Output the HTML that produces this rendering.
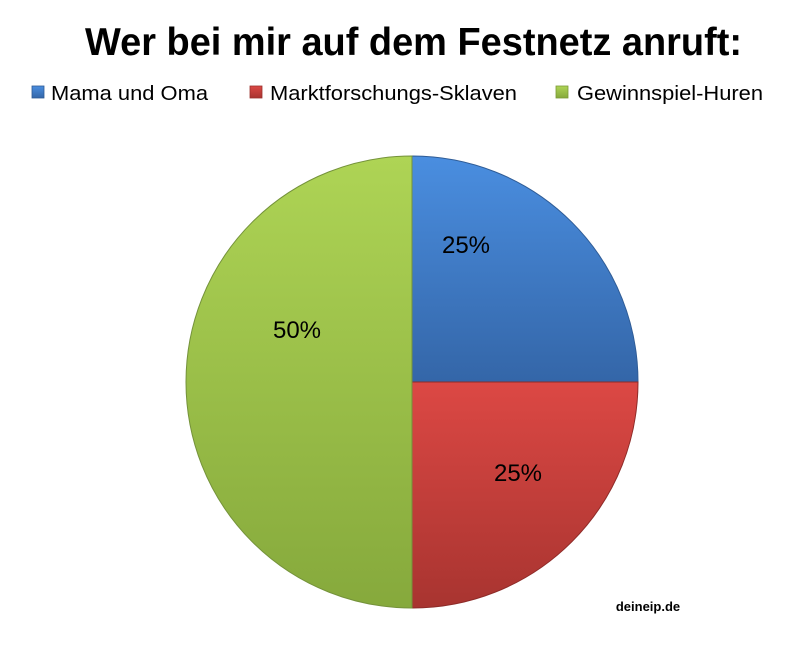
<!DOCTYPE html>
<html><head><meta charset="utf-8"><style>
body{margin:0;background:#fff;width:785px;height:651px;overflow:hidden;font-family:"Liberation Sans",sans-serif}
</style></head><body>
<svg width="785" height="651" xmlns="http://www.w3.org/2000/svg">
<defs>
<linearGradient id="b" x1="0" y1="0" x2="0" y2="1"><stop offset="0" stop-color="#4a8ee0"/><stop offset="1" stop-color="#3466a8"/></linearGradient>
<linearGradient id="r" x1="0" y1="0" x2="0" y2="1"><stop offset="0" stop-color="#dc4844"/><stop offset="1" stop-color="#a83430"/></linearGradient>
<linearGradient id="g" x1="0" y1="0" x2="0" y2="1"><stop offset="0" stop-color="#aed455"/><stop offset="1" stop-color="#86a93c"/></linearGradient>
</defs>
<text x="85" y="55" font-size="39" font-weight="bold" fill="#000" textLength="657" lengthAdjust="spacingAndGlyphs">Wer bei mir auf dem Festnetz anruft:</text>
<rect x="32" y="86" width="12" height="12" fill="url(#b)" stroke="#2d5a94" stroke-width="0.8"/>
<text x="51" y="100" font-size="20" fill="#000" textLength="157" lengthAdjust="spacingAndGlyphs">Mama und Oma</text>
<rect x="250" y="86" width="12" height="12" fill="url(#r)" stroke="#9a302c" stroke-width="0.8"/>
<text x="270" y="100" font-size="20" fill="#000" textLength="247" lengthAdjust="spacingAndGlyphs">Marktforschungs-Sklaven</text>
<rect x="556" y="86" width="12" height="12" fill="url(#g)" stroke="#7a9a36" stroke-width="0.8"/>
<text x="577" y="100" font-size="20" fill="#000" textLength="186" lengthAdjust="spacingAndGlyphs">Gewinnspiel-Huren</text>
<path d="M412,382 L412,156 A226,226 0 0 1 638,382 Z" fill="url(#b)" stroke="#2f5c96" stroke-width="1"/>
<path d="M412,382 L638,382 A226,226 0 0 1 412,608 Z" fill="url(#r)" stroke="#8e2b28" stroke-width="1"/>
<path d="M412,382 L412,608 A226,226 0 0 1 412,156 Z" fill="url(#g)" stroke="#74923a" stroke-width="1"/>
<text x="466" y="253" text-anchor="middle" font-size="24" fill="#000">25%</text>
<text x="518" y="481" text-anchor="middle" font-size="24" fill="#000">25%</text>
<text x="297" y="338" text-anchor="middle" font-size="24" fill="#000">50%</text>
<text x="648" y="611" text-anchor="middle" font-size="13" font-weight="bold" fill="#000">deineip.de</text>
</svg>
</body></html>
